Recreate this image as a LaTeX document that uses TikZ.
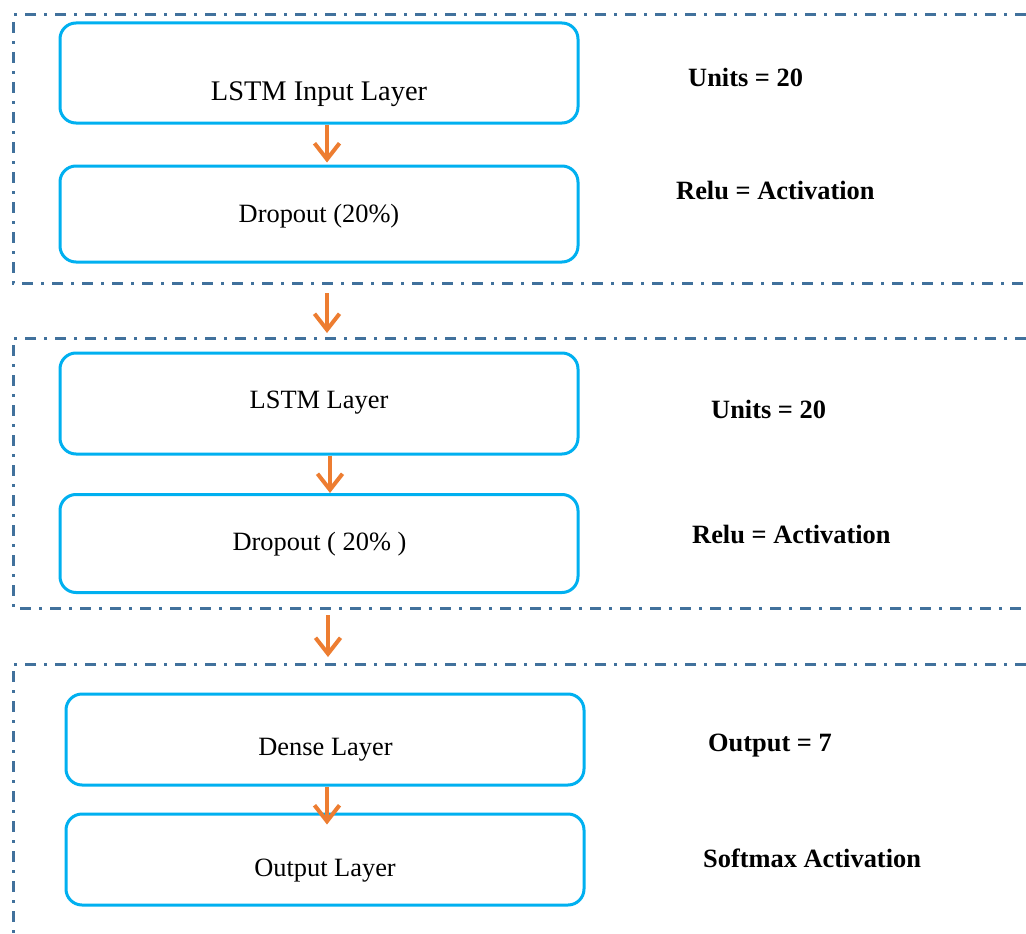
\documentclass[tikz,border=0pt]{standalone}
\usepackage{fontspec}
\setmainfont{Liberation Serif}
\usetikzlibrary{arrows.meta}

\definecolor{framecol}{HTML}{41719C}
\definecolor{boxcol}{HTML}{00B0F0}
\definecolor{arrowcol}{HTML}{ED7D31}

\tikzset{
  layerbox/.style={draw=boxcol, line width=3pt, rounded corners=16pt, minimum width=518pt},
  frameline/.style={draw=framecol, line width=3pt, dash pattern=on 11pt off 8pt on 3pt off 8pt},
  flow/.style={draw=arrowcol, line width=4pt, -{Straight Barb[length=16pt,width=25pt]}},
  layertext/.style={font=\fontsize{26.4}{30}\selectfont, anchor=base, inner sep=0pt},
  paramtext/.style={font=\fontsize{26.4}{30}\selectfont\bfseries, anchor=base west, inner sep=0pt},
}

\begin{document}
\begin{tikzpicture}[x=1pt,y=-1pt]
            \path[use as bounding box, fill=white] (0,0) rectangle (1026,934);

            \draw[frameline] (1026,15) -- (13,15) -- (13,283) -- (1026,283);
            \draw[frameline] (1026,338) -- (13,338) -- (13,608) -- (1026,608);
            \draw[frameline] (1026,664) -- (13,664) -- (13,934);

            \node[layerbox, minimum height=100pt] (lstmin) at (319,73) {};
            \node[layerbox, minimum height=96pt] (drop1) at (319,214) {};
            \node[layerbox, minimum height=101pt] (lstm) at (319,403.5) {};
            \node[layerbox, minimum height=98pt] (drop2) at (319,543.5) {};
            \node[layerbox, minimum height=91pt] (dense) at (325,739.5) {};
            \node[layerbox, minimum height=91pt] (outlayer) at (325,859.5) {};

            \coordinate (blk1out) at (327,293);
            \coordinate (blk2in) at (327,333);
            \coordinate (blk2out) at (328,615);
            \coordinate (blk3in) at (328,657);

            \draw[flow] ([xshift=8pt]lstmin.south) -- ([xshift=8pt,yshift=2pt]drop1.north);
            \draw[flow] (blk1out) -- (blk2in);
            \draw[flow] ([xshift=11pt]lstm.south) -- ([xshift=11pt]drop2.north);
            \draw[flow] (blk2out) -- (blk3in);
            \draw[flow] ([xshift=2pt]dense.south) -- ([xshift=2pt,yshift=-12pt]outlayer.north);

            \node[layertext, font=\fontsize{28.4}{32}\selectfont] (lstmin-t) at (319,100) {LSTM Input Layer};
            \node[layertext] (drop1-t) at (319,222) {Dropout (20\%)};
            \node[layertext] (lstm-t) at (319,408) {LSTM Layer};
            \node[layertext] (drop2-t) at (319.5,550) {Dropout ( 20\% )};
            \node[layertext] (dense-t) at (325.5,755) {Dense Layer};
            \node[layertext] (outlayer-t) at (325,876) {Output Layer};

            \node[paramtext] (units1) at (688,87) {Units = 20};
            \node[paramtext] (relu1) at (676,199) {Relu = Activation};
            \node[paramtext] (units2) at (711,418) {Units = 20};
            \node[paramtext] (relu2) at (692,543) {Relu = Activation};
            \node[paramtext] (outnum) at (708,751) {Output = 7};
            \node[paramtext] (softmax) at (703,867) {Softmax Activation};
        \end{tikzpicture}
\end{document}
